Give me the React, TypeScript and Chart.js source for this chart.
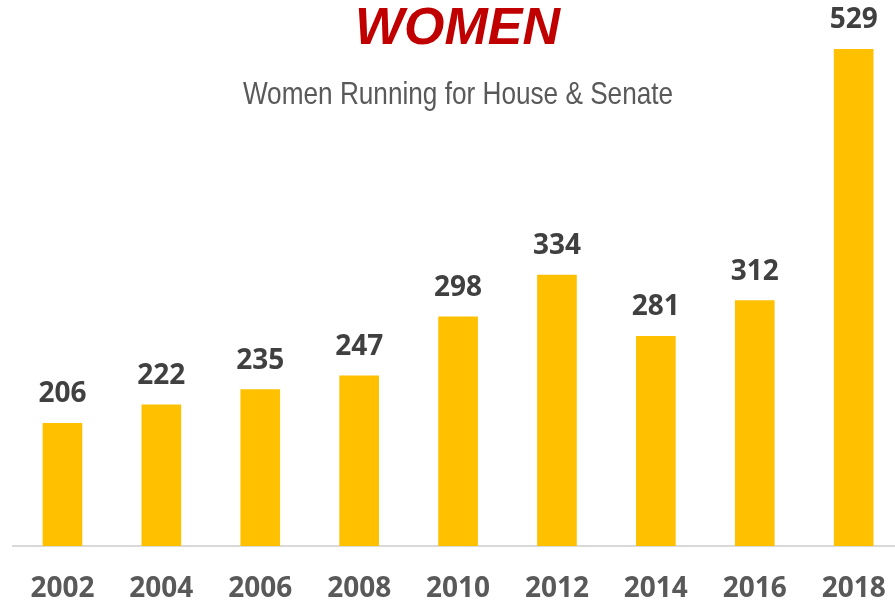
import React, { useEffect, useRef } from "react";
import { Chart, registerables } from "chart.js";

Chart.register(...registerables);

const years = ["2002", "2004", "2006", "2008", "2010", "2012", "2014", "2016", "2018"];
const womenCandidates = [206, 222, 235, 247, 298, 334, 281, 312, 529];
const titleText = "WOMEN";
const subtitleText = "Women Running for House & Senate";

const valueLabels = {
  id: "valueLabels",
  afterDatasetsDraw(chart: any) {
    const ctx = chart.ctx;
    const meta = chart.getDatasetMeta(0);
    ctx.save();
    ctx.font = "bold 28px 'Open Sans', sans-serif";
    ctx.fillStyle = "#404040";
    ctx.textAlign = "center";
    ctx.textBaseline = "alphabetic";
    meta.data.forEach((bar: any, i: number) => {
      ctx.fillText(String(womenCandidates[i]), bar.x, bar.y - 21);
    });
    ctx.restore();
  },
};

export default function App() {
  const canvasRef = useRef<HTMLCanvasElement | null>(null);

  useEffect(() => {
    if (!canvasRef.current) return;
    const chart = new Chart(canvasRef.current, {
      type: "bar",
      data: {
        datasets: [
          {
            label: "Women candidates",
            data: womenCandidates.map((v, i) => ({ x: i, y: v })),
            backgroundColor: "#FFC000",
            borderWidth: 0,
            barThickness: 39,
          },
        ],
      },
      options: {
        responsive: false,
        animation: false,
        devicePixelRatio: 1,
        layout: { padding: { left: 13, right: 0, top: 0, bottom: 0 } },
        plugins: {
          legend: { display: false },
          title: { display: false },
          tooltip: { enabled: false },
        },
        scales: {
          x: {
            type: "linear",
            offset: false,
            min: -0.5,
            max: 8.418,
            grid: { display: false, drawTicks: false },
            border: { display: true, color: "#d9d9d9", width: 2 },
            afterBuildTicks: (scale: any) => {
              scale.ticks = years.map((_, i) => ({ value: i }));
            },
            afterFit: (scale: any) => {
              scale.height = 57;
              scale.paddingLeft = 0;
              scale.paddingRight = 0;
            },
            ticks: {
              autoSkip: false,
              maxRotation: 0,
              padding: 26,
              color: "#595959",
              font: { family: "'Open Sans', sans-serif", size: 28, weight: "bold" },
              callback: (v: any) => years[v] ?? "",
            },
          },
          y: {
            display: false,
            min: 100,
            max: 571.5,
            grid: { display: false },
          },
        },
      },
      plugins: [valueLabels],
    });
    return () => chart.destroy();
  }, []);

  return (
    <div style={{ position: "fixed", left: 0, top: 0, width: 895, height: 603, background: "#fff" }}>
      <canvas ref={canvasRef} width={895} height={603} style={{ display: "block" }} />
      <div
        style={{
          position: "absolute",
          top: 0,
          left: 457.5,
          transform: "translateX(-50%)",
          whiteSpace: "nowrap",
          fontFamily: "'Liberation Sans', Arial, sans-serif",
          fontWeight: "bold",
          fontStyle: "italic",
          fontSize: 52,
          lineHeight: 1,
          color: "#C00000",
        }}
      >
        {titleText}
      </div>
      <div
        style={{
          position: "absolute",
          top: 77,
          left: 458,
          transform: "translateX(-50%) scaleX(0.818)",
          whiteSpace: "nowrap",
          fontFamily: "'Liberation Sans', Arial, sans-serif",
          fontSize: 32,
          lineHeight: 1,
          color: "#595959",
        }}
      >
        {subtitleText}
      </div>
    </div>
  );
}
